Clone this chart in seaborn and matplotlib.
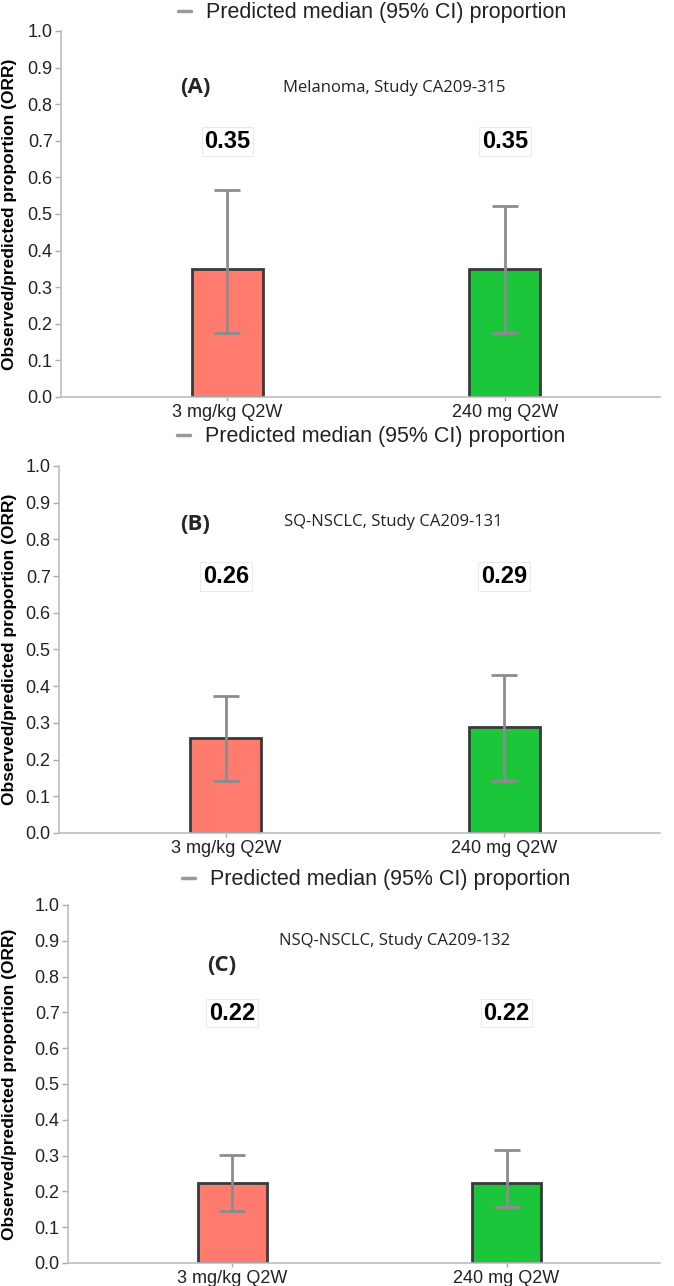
import matplotlib
matplotlib.use("Agg")
import matplotlib.pyplot as plt
from matplotlib.lines import Line2D
import seaborn as sns
import pandas as pd

# data
doses = ["3 mg/kg Q2W", "240 mg Q2W"]
bar_colors = ["#FF7B6E", "#1BC63A"]

panel_tags = ["(A)", "(B)", "(C)"]
panel_titles = ["Melanoma, Study CA209-315",
                "SQ-NSCLC, Study CA209-131",
                "NSQ-NSCLC, Study CA209-132"]

median_a = [0.35, 0.35]
lower_a = [0.176, 0.175]
upper_a = [0.566, 0.523]

median_b = [0.258, 0.288]
lower_b = [0.142, 0.142]
upper_b = [0.373, 0.430]

median_c = [0.224, 0.224]
lower_c = [0.145, 0.157]
upper_c = [0.302, 0.315]

value_labels_a = ["0.35", "0.35"]
value_labels_b = ["0.26", "0.29"]
value_labels_c = ["0.22", "0.22"]

yticks = [0.0, 0.1, 0.2, 0.3, 0.4, 0.5, 0.6, 0.7, 0.8, 0.9, 1.0]

sns.set_theme(style="white")
plt.rcParams["font.family"] = ["Liberation Sans", "DejaVu Sans"]

fig = plt.figure(figsize=(6.74, 12.86), dpi=100)

# axes boxes in figure fractions (left, bottom, width, height)
boxes = [
    (0.0905, 0.6913, 0.889, 0.2846),
    (0.0875, 0.3523, 0.892, 0.2854),
    (0.1009, 0.0179, 0.8783, 0.2784),
]
legend_y = [1.05, 1.08, 1.07]
ylabel_x = [-0.074, -0.070, -0.086]
tag_pos = [(-0.115, 0.845), (-0.11, 0.84), (-0.04, 0.83)]
title_pos = [(0.6, 0.845), (0.6, 0.847), (0.59, 0.90)]

medians = [median_a, median_b, median_c]
lowers = [lower_a, lower_b, lower_c]
uppers = [upper_a, upper_b, upper_c]
vlabels = [value_labels_a, value_labels_b, value_labels_c]

for i in range(3):
    ax = fig.add_axes(boxes[i])
    df = pd.DataFrame({"dose": doses, "orr": medians[i]})
    sns.barplot(data=df, x="dose", y="orr", hue="dose", palette=bar_colors,
                width=0.255, errorbar=None, legend=False, saturation=1,
                edgecolor="#3a3a3a", linewidth=2, ax=ax)

    yerr = [[m - lo for m, lo in zip(medians[i], lowers[i])],
            [up - m for m, up in zip(medians[i], uppers[i])]]
    ax.errorbar(x=[0, 1], y=medians[i], yerr=yerr, fmt="none",
                ecolor="#8c8c8c", elinewidth=2, capsize=9.5, capthick=2, zorder=5)

    for j, lab in enumerate(vlabels[i]):
        ax.text(j, 0.698, lab, ha="center", va="center", fontsize=17,
                fontweight="bold", color="black",
                bbox=dict(boxstyle="square,pad=0.12", facecolor="none",
                          edgecolor="#e2e2e2", linewidth=0.5))

    ax.text(tag_pos[i][0], tag_pos[i][1], panel_tags[i], ha="center", va="center",
            fontsize=16, fontweight="bold", family=["Open Sans", "DejaVu Sans"])
    ax.text(title_pos[i][0], title_pos[i][1], panel_titles[i], ha="center", va="center",
            fontsize=12, family=["Open Sans", "DejaVu Sans"], color="#222222")

    ax.set_xlim(-0.6, 1.56)
    ax.set_ylim(0, 1.0)
    ax.set_yticks(yticks)
    ax.set_yticklabels([f"{t:.1f}" for t in yticks])
    ax.tick_params(axis="y", labelsize=13, length=4, width=1, color="#aaaaaa",
                   left=True, pad=2, labelcolor="#222222")
    ax.tick_params(axis="x", labelsize=13, length=3, width=1, color="#aaaaaa",
                   bottom=True, pad=2, labelcolor="#222222")
    ax.set_xlabel("")
    ax.set_ylabel("Observed/predicted proportion (ORR)", fontsize=12.5,
                  fontweight="bold", color="black")
    ax.yaxis.set_label_coords(ylabel_x[i], 0.5)
    for side in ["top", "right"]:
        ax.spines[side].set_visible(False)
    for side in ["left", "bottom"]:
        ax.spines[side].set_color("#bdbdbd")
        ax.spines[side].set_linewidth(1.2)

    handle = Line2D([], [], color="#999999", linewidth=2.5)
    ax.legend(handles=[handle], labels=["Predicted median (95% CI) proportion"],
              loc="center", bbox_to_anchor=(0.52, legend_y[i]), frameon=False,
              handlelength=0.6, handletextpad=0.7, fontsize=15.5,
              labelcolor="#222222")

fig.savefig("out.png", dpi=100)
